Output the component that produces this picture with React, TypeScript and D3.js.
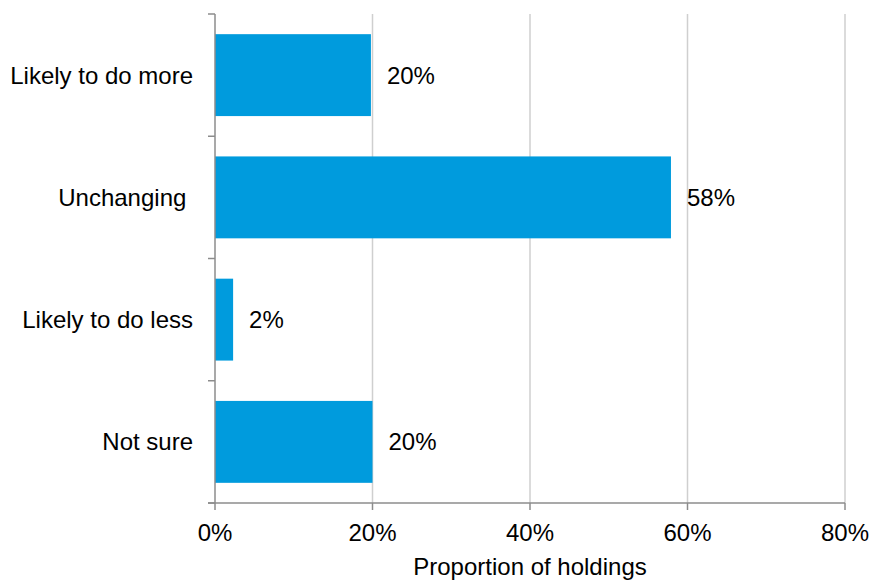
import React from "react";
import * as d3 from "d3";

const categories = ["Likely to do more", "Unchanging ", "Likely to do less", "Not sure"];
const values = [19.8, 57.9, 2.3, 20.0];
const valueLabels = ["20%", "58%", "2%", "20%"];
const xTicks = [0, 20, 40, 60, 80];

const W = 873;
const H = 580;
const M = { left: 215, right: 28, top: 14, bottom: 77 };
const FONT = "Liberation Sans, Arial, sans-serif";

export default function App() {
  const x = d3.scaleLinear().domain([0, 80]).range([M.left, W - M.right]);
  const y = d3
    .scaleBand<string>()
    .domain(categories)
    .range([M.top, H - M.bottom])
    .paddingInner(0.33)
    .paddingOuter(0.165);
  const bandTop = (i: number) => M.top + i * ((H - M.bottom - M.top) / categories.length);
  const bandH = (H - M.bottom - M.top) / categories.length;
  const y0 = H - M.bottom;
  const fs = 24;

  return (
    <svg
      width={W}
      height={H}
      style={{ position: "absolute", left: 0, top: 0, background: "#fff" }}
      fontFamily={FONT}
    >
      {xTicks.slice(1).map((t) => (
        <line key={"g" + t} x1={x(t)} x2={x(t)} y1={M.top} y2={y0} stroke="#cfcfcf" strokeWidth={1.5} />
      ))}
      {categories.map((c, i) => (
        <rect
          key={"b" + i}
          x={x(0)}
          y={y(c)!}
          width={x(values[i]) - x(0)}
          height={y.bandwidth()}
          fill="#009bdd"
        />
      ))}
      <line x1={x(0)} x2={x(0)} y1={M.top} y2={y0} stroke="#8c8c8c" strokeWidth={1.5} />
      <line x1={x(0) - 7} x2={x(80)} y1={y0} y2={y0} stroke="#8c8c8c" strokeWidth={1.5} />
      {d3.range(categories.length + 1).map((i) => (
        <line
          key={"yt" + i}
          x1={x(0) - 7}
          x2={x(0)}
          y1={M.top + i * bandH}
          y2={M.top + i * bandH}
          stroke="#8c8c8c"
          strokeWidth={1.5}
        />
      ))}
      {xTicks.map((t) => (
        <line key={"xt" + t} x1={x(t)} x2={x(t)} y1={y0} y2={y0 + 7} stroke="#8c8c8c" strokeWidth={1.5} />
      ))}
      {xTicks.map((t) => (
        <text key={"xl" + t} x={x(t)} y={541} textAnchor="middle" fontSize={fs} fill="#000">
          {t + "%"}
        </text>
      ))}
      {categories.map((c, i) => (
        <text
          key={"cl" + i}
          x={x(0) - 22}
          y={bandTop(i) + bandH / 2}
          dy="0.35em"
          textAnchor="end"
          fontSize={fs}
          fill="#000"
          style={{ whiteSpace: "pre" }}
        >
          {c}
        </text>
      ))}
      {categories.map((c, i) => (
        <text
          key={"vl" + i}
          x={x(values[i]) + 16}
          y={y(c)! + y.bandwidth() / 2}
          dy="0.35em"
          fontSize={fs}
          fill="#000"
        >
          {valueLabels[i]}
        </text>
      ))}
      <text x={(x(0) + x(80)) / 2} y={575} textAnchor="middle" fontSize={fs} fill="#000">
        Proportion of holdings
      </text>
    </svg>
  );
}
